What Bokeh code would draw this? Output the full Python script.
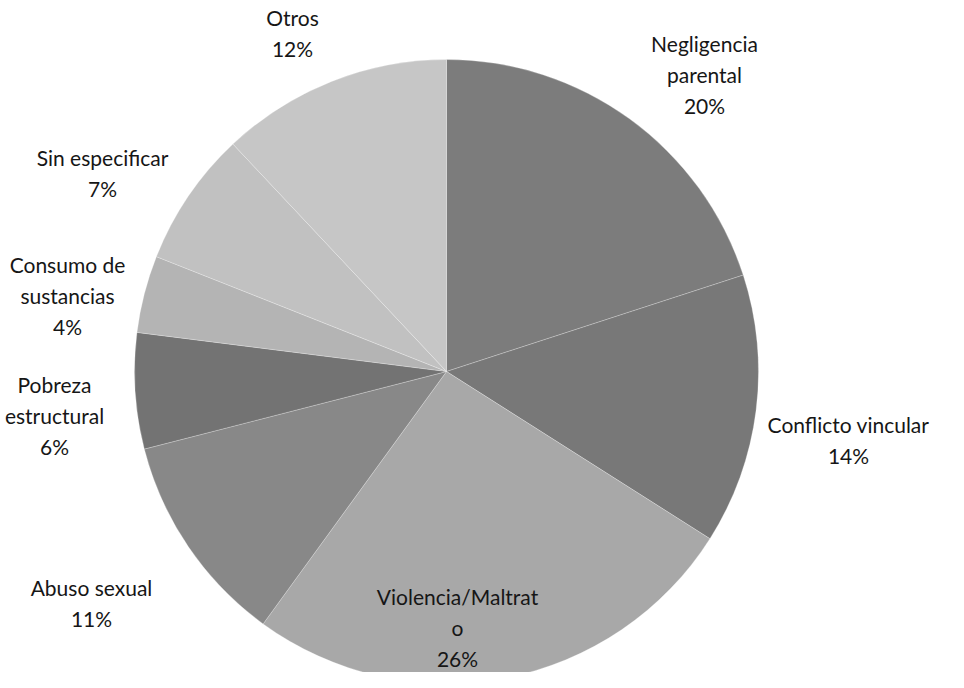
import math
from bokeh.plotting import figure
from bokeh.models import ColumnDataSource, Range1d
from bokeh.core.properties import value
from bokeh.embed import file_html
from bokeh.resources import INLINE

# ---------------- data ----------------
categories = ["Negligencia\nparental", "Conflicto vincular", "Violencia/Maltrat\no",
              "Abuso sexual", "Pobreza\nestructural", "Consumo de\nsustancias",
              "Sin especificar", "Otros"]
percent = [20, 14, 26, 11, 6, 4, 7, 12]
colors = ["#7c7c7c", "#787878", "#a8a8a8", "#888888", "#737373", "#b4b4b4",
          "#c1c1c1", "#c6c6c6"]

# ---------------- layout ----------------
W, H = 948, 672
cx, cy, R = 446, 301, 312          # pie centre & radius (data units == px)
# label block centres (data units), one per category
label_pos = [(704, 598), (848, 233), (457, 45), (91, 70),
             (54, 257), (67, 377), (102, 500), (292, 640)]
line_h = 31

total = float(sum(percent))
starts, ends = [], []
acc = 0.0
for v in percent:
    starts.append(math.pi / 2 - 2 * math.pi * acc / total)
    acc += v
    ends.append(math.pi / 2 - 2 * math.pi * acc / total)

src = ColumnDataSource(dict(start=starts, end=ends, color=colors,
                            cat=categories, pct=percent))

p = figure(width=W, height=H, output_backend="svg", toolbar_location=None,
           x_range=Range1d(0, W), y_range=Range1d(0, H), min_border=0,
           background_fill_color="white", border_fill_color="white")
p.axis.visible = False
p.grid.visible = False
p.outline_line_color = None

p.wedge(x=cx, y=cy, radius=R, start_angle="start", end_angle="end",
        direction="clock", fill_color="color", line_color="white",
        line_alpha=0.25, line_width=1, source=src)

# labels: each line drawn separately
lx, ly, lt = [], [], []
for cat, pct, (x, y) in zip(categories, percent, label_pos):
    lines = cat.split("\n") + ["%d%%" % pct]
    n = len(lines)
    for i, t in enumerate(lines):
        lx.append(x)
        ly.append(y + ((n - 1) / 2 - i) * line_h)
        lt.append(t)

p.text(x=lx, y=ly, text=lt, text_align="center", text_baseline="middle",
       text_font=value("Lato"), text_font_size="21px", text_color="#161616")

open("out.html", "w").write(file_html(p, INLINE))
